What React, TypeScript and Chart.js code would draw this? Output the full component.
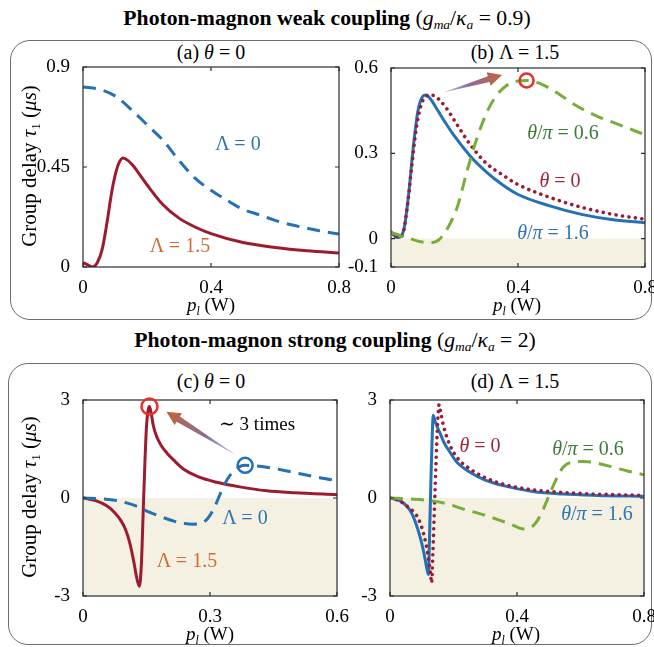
import React, { useEffect, useRef } from "react";
import { Chart, registerables } from "chart.js";
Chart.register(...registerables);

const FONT = "Liberation Serif, Tinos, Times New Roman, DejaVu Serif, Noto Serif, serif";

// ---------- Panel (a): weak coupling, theta = 0 ----------
const A_X_TICKS = [0, 0.4, 0.8];
const A_Y_TICKS = [0, 0.45, 0.9];
const A_L0_X = [0, 0.05, 0.1, 0.15, 0.2, 0.25, 0.3, 0.35, 0.4, 0.45, 0.5, 0.55, 0.6, 0.65, 0.7, 0.75, 0.8];
const A_L0_Y = [0.81, 0.8, 0.77, 0.71, 0.64, 0.57, 0.48, 0.4, 0.345, 0.3, 0.26, 0.235, 0.21, 0.19, 0.175, 0.16, 0.148];
const A_L15_X = [0, 0.015, 0.03, 0.045, 0.06, 0.075, 0.09, 0.1, 0.11, 0.125, 0.14, 0.16, 0.18, 0.2, 0.25, 0.3, 0.35, 0.4, 0.5, 0.6, 0.7, 0.8];
const A_L15_Y = [0.02, 0.01, 0.0, 0.02, 0.08, 0.2, 0.34, 0.41, 0.46, 0.49, 0.48, 0.45, 0.41, 0.37, 0.28, 0.22, 0.18, 0.15, 0.11, 0.088, 0.073, 0.063];

// ---------- Panel (b): weak coupling, Lambda = 1.5 ----------
const B_X_TICKS = [0, 0.4, 0.8];
const B_Y_TICKS = [-0.1, 0, 0.3, 0.6];
const B_T16_X = [0, 0.02, 0.04, 0.055, 0.07, 0.085, 0.1, 0.11, 0.125, 0.145, 0.17, 0.2, 0.25, 0.3, 0.35, 0.4, 0.5, 0.6, 0.7, 0.8];
const B_T16_Y = [0.022, 0.004, 0.03, 0.15, 0.32, 0.45, 0.5, 0.505, 0.49, 0.455, 0.41, 0.36, 0.29, 0.235, 0.19, 0.155, 0.115, 0.085, 0.066, 0.056];
const B_T0_X = [0, 0.02, 0.035, 0.05, 0.065, 0.08, 0.095, 0.11, 0.125, 0.14, 0.155, 0.18, 0.2, 0.25, 0.3, 0.35, 0.4, 0.5, 0.6, 0.7, 0.8];
const B_T0_Y = [0.022, 0.006, 0.01, 0.1, 0.25, 0.39, 0.47, 0.5, 0.505, 0.5, 0.485, 0.45, 0.415, 0.33, 0.265, 0.225, 0.19, 0.145, 0.11, 0.085, 0.068];
const B_T06_X = [0, 0.03, 0.06, 0.09, 0.12, 0.15, 0.18, 0.21, 0.24, 0.27, 0.3, 0.33, 0.36, 0.39, 0.43, 0.47, 0.52, 0.58, 0.65, 0.72, 0.8];
const B_T06_Y = [0.022, 0.01, 0.0, -0.01, -0.015, -0.005, 0.04, 0.115, 0.24, 0.35, 0.44, 0.5, 0.535, 0.552, 0.556, 0.545, 0.515, 0.47, 0.43, 0.4, 0.365];

// ---------- Panel (c): strong coupling, theta = 0 ----------
const C_X_TICKS = [0, 0.3, 0.6];
const C_Y_TICKS = [-3, 0, 3];
const C_L15_X = [0, 0.03, 0.056, 0.075, 0.09, 0.1, 0.11, 0.12, 0.127, 0.133, 0.138, 0.142, 0.146, 0.15, 0.154, 0.157, 0.161, 0.166, 0.175, 0.185, 0.198, 0.215, 0.237, 0.27, 0.316, 0.37, 0.434, 0.5, 0.6];
const C_L15_Y = [0, -0.08, -0.24, -0.45, -0.7, -0.95, -1.35, -1.95, -2.45, -2.7, -2.0, -0.5, 1.0, 2.2, 2.7, 2.8, 2.6, 2.22, 1.85, 1.6, 1.38, 1.15, 0.89, 0.66, 0.48, 0.34, 0.22, 0.16, 0.1];
const C_L0_X = [0, 0.04, 0.08, 0.12, 0.158, 0.19, 0.213, 0.24, 0.26, 0.28, 0.295, 0.31, 0.325, 0.34, 0.355, 0.37, 0.383, 0.4, 0.434, 0.47, 0.513, 0.56, 0.6];
const C_L0_Y = [0, -0.02, -0.08, -0.22, -0.44, -0.6, -0.7, -0.78, -0.8, -0.77, -0.62, -0.3, 0.15, 0.55, 0.82, 0.96, 1.0, 0.99, 0.94, 0.86, 0.74, 0.62, 0.53];

// ---------- Panel (d): strong coupling, Lambda = 1.5 ----------
const D_X_TICKS = [0, 0.4, 0.8];
const D_Y_TICKS = [-3, 0, 3];
const D_T16_X = [0, 0.03, 0.052, 0.07, 0.084, 0.095, 0.105, 0.112, 0.118, 0.121, 0.125, 0.129, 0.133, 0.136, 0.142, 0.15, 0.157, 0.17, 0.189, 0.21, 0.252, 0.3, 0.357, 0.45, 0.546, 0.65, 0.8];
const D_T16_Y = [0, -0.08, -0.24, -0.5, -0.85, -1.2, -1.6, -1.95, -2.25, -2.34, -1.0, 0.6, 1.9, 2.53, 2.35, 2.15, 2.0, 1.7, 1.4, 1.1, 0.79, 0.55, 0.38, 0.2, 0.12, 0.08, 0.05];
const D_T0_X = [0, 0.03, 0.06, 0.084, 0.1, 0.112, 0.122, 0.128, 0.131, 0.135, 0.14, 0.145, 0.15, 0.155, 0.16, 0.17, 0.189, 0.21, 0.252, 0.3, 0.357, 0.45, 0.546, 0.65, 0.8];
const D_T0_Y = [0, -0.09, -0.3, -0.54, -0.9, -1.35, -1.9, -2.35, -2.6, -1.7, -0.3, 1.1, 2.3, 2.86, 2.6, 2.15, 1.61, 1.25, 0.89, 0.62, 0.42, 0.25, 0.17, 0.12, 0.08];
const D_T06_X = [0, 0.06, 0.126, 0.18, 0.231, 0.29, 0.336, 0.38, 0.42, 0.44, 0.46, 0.48, 0.5, 0.52, 0.546, 0.575, 0.609, 0.65, 0.703, 0.75, 0.8];
const D_T06_Y = [0, -0.03, -0.08, -0.18, -0.34, -0.5, -0.65, -0.8, -0.95, -0.92, -0.75, -0.4, 0.05, 0.5, 0.95, 1.1, 1.12, 1.07, 0.94, 0.82, 0.71];

const BLUE = "#2471b5";
const RED = "#9c1b31";
const GREEN = "#79ad3a";
const TXT_BLUE = "#2f73b0";
const TXT_RED = "#a3233a";
const TXT_GREEN = "#3d7b3a";
const TXT_ORANGE = "#cd6c36";
const CIRCLE_RED = "#e5302b";

type Series = { x: number[]; y: number[]; color: string; style: "solid" | "dash" | "dot" };
type Box = { l: number; t: number; w: number; h: number };
type Area = { l: number; t: number; r: number; b: number };
type Panel = {
  canvas: Box;
  area: Area;
  xMin: number; xMax: number; xTicks: number[];
  yMin: number; yMax: number; yTicks: number[];
  series: Series[];
  shade: boolean;
  circles: { x: number; y: number; r: number; color: string }[];
  arrows: { x1: number; y1: number; x2: number; y2: number }[];
};

const PANELS: Panel[] = [
  {
    canvas: { l: 0, t: 45, w: 362, h: 280 },
    area: { l: 83, t: 67, r: 339, b: 267 },
    xMin: 0, xMax: 0.8, xTicks: A_X_TICKS, yMin: 0, yMax: 0.9, yTicks: A_Y_TICKS,
    series: [
      { x: A_L0_X, y: A_L0_Y, color: BLUE, style: "dash" },
      { x: A_L15_X, y: A_L15_Y, color: RED, style: "solid" },
    ],
    shade: false, circles: [], arrows: [],
  },
  {
    canvas: { l: 345, t: 45, w: 309, h: 280 },
    area: { l: 391, t: 68, r: 645, b: 267 },
    xMin: 0, xMax: 0.8, xTicks: B_X_TICKS, yMin: -0.1, yMax: 0.6, yTicks: B_Y_TICKS,
    series: [
      { x: B_T06_X, y: B_T06_Y, color: GREEN, style: "dash" },
      { x: B_T0_X, y: B_T0_Y, color: RED, style: "dot" },
      { x: B_T16_X, y: B_T16_Y, color: BLUE, style: "solid" },
    ],
    shade: true,
    circles: [{ x: 0.427, y: 0.556, r: 7, color: CIRCLE_RED }],
    arrows: [{ x1: 0.164, y1: 0.514, x2: 0.35, y2: 0.575 }],
  },
  {
    canvas: { l: 0, t: 380, w: 362, h: 250 },
    area: { l: 83, t: 400, r: 337, b: 596 },
    xMin: 0, xMax: 0.6, xTicks: C_X_TICKS, yMin: -3, yMax: 3, yTicks: C_Y_TICKS,
    series: [
      { x: C_L0_X, y: C_L0_Y, color: BLUE, style: "dash" },
      { x: C_L15_X, y: C_L15_Y, color: RED, style: "solid" },
    ],
    shade: true,
    circles: [
      { x: 0.157, y: 2.8, r: 8, color: CIRCLE_RED },
      { x: 0.383, y: 1.0, r: 7.5, color: BLUE },
    ],
    arrows: [{ x1: 0.363, y1: 1.3, x2: 0.197, y2: 2.64 }],
  },
  {
    canvas: { l: 345, t: 380, w: 309, h: 250 },
    area: { l: 390, t: 400, r: 644, b: 596 },
    xMin: 0, xMax: 0.8, xTicks: D_X_TICKS, yMin: -3, yMax: 3, yTicks: D_Y_TICKS,
    series: [
      { x: D_T06_X, y: D_T06_Y, color: GREEN, style: "dash" },
      { x: D_T0_X, y: D_T0_Y, color: RED, style: "dot" },
      { x: D_T16_X, y: D_T16_Y, color: BLUE, style: "solid" },
    ],
    shade: true, circles: [], arrows: [],
  },
];

function makeDataset(s: Series) {
  const ds: any = {
    data: s.x.map((x, i) => ({ x, y: s.y[i] })),
    borderColor: s.color,
    borderWidth: 3,
    pointRadius: 0,
    fill: false,
    cubicInterpolationMode: "monotone",
    borderCapStyle: "butt",
    borderJoinStyle: "round",
  };
  if (s.style === "dash") ds.borderDash = [13, 8];
  if (s.style === "dot") {
    ds.borderDash = [0.01, 6.5];
    ds.borderCapStyle = "round";
    ds.borderWidth = 3.6;
  }
  return ds;
}

function drawArrow(ctx: CanvasRenderingContext2D, x1: number, y1: number, x2: number, y2: number) {
  const dx = x2 - x1, dy = y2 - y1;
  const len = Math.hypot(dx, dy);
  const ux = dx / len, uy = dy / len;
  const nx = -uy, ny = ux;
  const headLen = 14, headW = 7, shaftW = 3;
  const bx = x2 - ux * headLen, by = y2 - uy * headLen;
  const g = ctx.createLinearGradient(x1, y1, x2, y2);
  g.addColorStop(0, "rgba(120,125,195,0.5)");
  g.addColorStop(0.45, "#8a6e9a");
  g.addColorStop(1, "#c4623a");
  ctx.save();
  ctx.fillStyle = g;
  ctx.beginPath();
  ctx.moveTo(x1, y1);
  ctx.lineTo(bx + nx * shaftW, by + ny * shaftW);
  ctx.lineTo(bx + nx * headW, by + ny * headW);
  ctx.lineTo(x2, y2);
  ctx.lineTo(bx - nx * headW, by - ny * headW);
  ctx.lineTo(bx - nx * shaftW, by - ny * shaftW);
  ctx.closePath();
  ctx.fill();
  ctx.restore();
}

function makeDeco(p: Panel) {
  return {
    id: "deco",
    beforeDatasetsDraw(chart: any) {
      if (!p.shade) return;
      const { ctx, chartArea: a, scales } = chart;
      const y0 = scales.y.getPixelForValue(0);
      ctx.save();
      ctx.fillStyle = "#f4f1e3";
      ctx.fillRect(a.left, y0, a.right - a.left, a.bottom - y0);
      ctx.restore();
    },
    afterDatasetsDraw(chart: any) {
      const { ctx, chartArea: a, scales } = chart;
      ctx.save();
      ctx.strokeStyle = "#2b2b2b";
      ctx.lineWidth = 1.2;
      ctx.strokeRect(a.left, a.top, a.right - a.left, a.bottom - a.top);
      ctx.beginPath();
      const tl = 4;
      p.xTicks.forEach((v) => {
        const x = scales.x.getPixelForValue(v);
        ctx.moveTo(x, a.bottom); ctx.lineTo(x, a.bottom - tl);
        ctx.moveTo(x, a.top); ctx.lineTo(x, a.top + tl);
      });
      p.yTicks.forEach((v) => {
        const y = scales.y.getPixelForValue(v);
        ctx.moveTo(a.left, y); ctx.lineTo(a.left + tl, y);
        ctx.moveTo(a.right, y); ctx.lineTo(a.right - tl, y);
      });
      ctx.stroke();
      ctx.restore();

      p.arrows.forEach((ar) => {
        drawArrow(
          ctx,
          scales.x.getPixelForValue(ar.x1), scales.y.getPixelForValue(ar.y1),
          scales.x.getPixelForValue(ar.x2), scales.y.getPixelForValue(ar.y2)
        );
      });
      p.circles.forEach((c) => {
        ctx.save();
        ctx.strokeStyle = c.color;
        ctx.lineWidth = 2.5;
        ctx.beginPath();
        ctx.arc(scales.x.getPixelForValue(c.x), scales.y.getPixelForValue(c.y), c.r, 0, Math.PI * 2);
        ctx.stroke();
        ctx.restore();
      });
    },
  };
}

function buildChart(canvas: HTMLCanvasElement, p: Panel) {
  const cRight = p.canvas.l + p.canvas.w;
  const cBottom = p.canvas.t + p.canvas.h;
  const tickFont = { family: FONT, size: 19 };
  return new Chart(canvas, {
    type: "line",
    data: { datasets: p.series.map(makeDataset) },
    options: {
      animation: false,
      responsive: false,
      maintainAspectRatio: false,
      layout: { padding: { left: 0, top: p.area.t - p.canvas.t, right: cRight - p.area.r, bottom: 0 } },
      plugins: { legend: { display: false }, tooltip: { enabled: false } },
      scales: {
        x: {
          type: "linear",
          min: p.xMin,
          max: p.xMax,
          afterBuildTicks: (s: any) => { s.ticks = p.xTicks.map((v) => ({ value: v })); },
          afterFit: (s: any) => { s.height = cBottom - p.area.b; s.paddingLeft = 0; s.paddingRight = 0; },
          grid: { display: false },
          border: { display: false },
          ticks: { font: tickFont, color: "#000", padding: 2, maxRotation: 0, autoSkip: false, callback: (v: any) => String(v) },
        },
        y: {
          type: "linear",
          min: p.yMin,
          max: p.yMax,
          afterBuildTicks: (s: any) => { s.ticks = p.yTicks.map((v) => ({ value: v })); },
          afterFit: (s: any) => { s.width = p.area.l - p.canvas.l; s.paddingTop = 0; s.paddingBottom = 0; },
          grid: { display: false },
          border: { display: false },
          ticks: { font: tickFont, color: "#000", padding: 5, autoSkip: false, callback: (v: any) => String(v) },
        },
      },
    } as any,
    plugins: [makeDeco(p)],
  });
}

const Sub = ({ children }: { children: React.ReactNode }) => (
  <span style={{ fontSize: "0.62em", position: "relative", top: "0.32em" }}>{children}</span>
);

function Lbl({ x, y, color = "#000", size = 20, children, style }: any) {
  return (
    <div
      style={{
        position: "absolute", left: x, top: y, transform: "translate(-50%,-50%)",
        color, fontSize: size, whiteSpace: "nowrap", lineHeight: 1, ...style,
      }}
    >
      {children}
    </div>
  );
}

const YLabel = ({ x, y }: { x: number; y: number }) => (
  <div
    style={{
      position: "absolute", left: x, top: y, transform: "translate(-50%,-50%) rotate(-90deg)",
      fontSize: 21, whiteSpace: "nowrap", lineHeight: 1,
    }}
  >
    Group delay <i>τ</i><Sub>1</Sub> (<i>μs</i>)
  </div>
);

const XLabel = ({ x, y }: { x: number; y: number }) => (
  <Lbl x={x} y={y} size={19}>
    <i>p</i><Sub><i>l</i></Sub> (W)
  </Lbl>
);

export default function App() {
  const refs = [useRef<HTMLCanvasElement>(null), useRef<HTMLCanvasElement>(null), useRef<HTMLCanvasElement>(null), useRef<HTMLCanvasElement>(null)];
  useEffect(() => {
    const charts = PANELS.map((p, i) => buildChart(refs[i].current!, p));
    return () => charts.forEach((c) => c.destroy());
  }, []);

  const boxStyle = (l: number, t: number, w: number, h: number): React.CSSProperties => ({
    position: "absolute", left: l, top: t, width: w, height: h, boxSizing: "border-box",
    border: "1.5px solid #6e6e6e", borderRadius: 20,
  });

  return (
    <div style={{ position: "absolute", left: 0, top: 0, width: 654, height: 647, overflow: "hidden", fontFamily: FONT, color: "#000", background: "#fff" }}>
      <div style={boxStyle(10, 40, 642, 280)} />
      <div style={boxStyle(8, 363, 644, 282)} />

      <Lbl x={327} y={19} size={21.7}>
        <b>Photon-magnon weak coupling</b> (<i>g</i><Sub><i>ma</i></Sub>/<i>κ</i><Sub><i>a</i></Sub> = 0.9)
      </Lbl>
      <Lbl x={335} y={341} size={21.7}>
        <b>Photon-magnon strong coupling</b> (<i>g</i><Sub><i>ma</i></Sub>/<i>κ</i><Sub><i>a</i></Sub> = 2)
      </Lbl>

      <Lbl x={211} y={52}>(a) <i>θ</i> = 0</Lbl>
      <Lbl x={515} y={52}>(b) Λ = 1.5</Lbl>
      <Lbl x={211} y={381}>(c) <i>θ</i> = 0</Lbl>
      <Lbl x={515} y={381}>(d) Λ = 1.5</Lbl>

      {PANELS.map((p, i) => (
        <canvas
          key={i}
          ref={refs[i]}
          width={p.canvas.w}
          height={p.canvas.h}
          style={{ position: "absolute", left: p.canvas.l, top: p.canvas.t, width: p.canvas.w, height: p.canvas.h }}
        />
      ))}

      <YLabel x={29} y={166} />
      <YLabel x={29} y={497} />
      <XLabel x={211} y={304} />
      <XLabel x={517} y={304} />
      <XLabel x={210} y={633} />
      <XLabel x={516} y={633} />

      <Lbl x={238} y={143} color={TXT_BLUE}>Λ = 0</Lbl>
      <Lbl x={180} y={245} color={TXT_ORANGE}>Λ = 1.5</Lbl>

      <Lbl x={563} y={132} color={TXT_GREEN}><i>θ</i>/<i>π</i> = 0.6</Lbl>
      <Lbl x={560} y={180} color={TXT_RED}><i>θ</i> = 0</Lbl>
      <Lbl x={553} y={232} color={TXT_BLUE}><i>θ</i>/<i>π</i> = 1.6</Lbl>

      <Lbl x={257} y={423} size={19}>∼ 3 times</Lbl>
      <Lbl x={245} y={517} color={TXT_BLUE}>Λ = 0</Lbl>
      <Lbl x={187} y={560} color={TXT_ORANGE}>Λ = 1.5</Lbl>

      <Lbl x={480} y={445} color={TXT_RED}><i>θ</i> = 0</Lbl>
      <Lbl x={588} y={448} color={TXT_GREEN}><i>θ</i>/<i>π</i> = 0.6</Lbl>
      <Lbl x={597} y={513} color={TXT_BLUE}><i>θ</i>/<i>π</i> = 1.6</Lbl>
    </div>
  );
}
